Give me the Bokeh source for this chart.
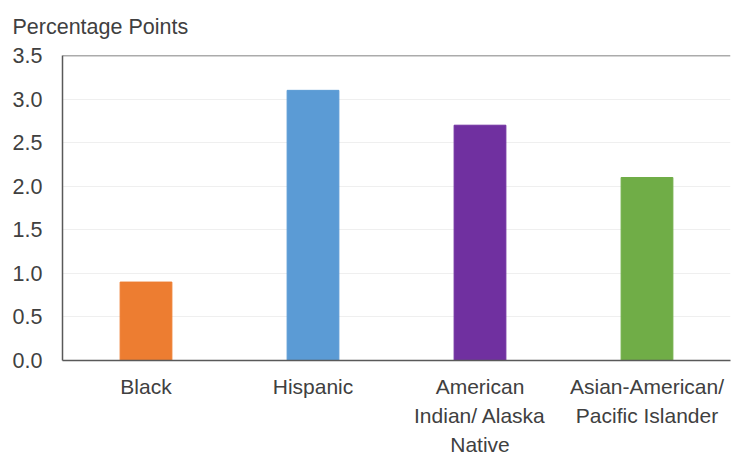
from bokeh.plotting import figure
from bokeh.models import Range1d, FixedTicker, Span, ColumnDataSource, NumeralTickFormatter
from bokeh.embed import file_html
from bokeh.resources import INLINE

categories = ["Black", "Hispanic", "American Indian/ Alaska Native", "Asian-American/ Pacific Islander"]
tick_labels = ["Black", "Hispanic", "American\nIndian/ Alaska\nNative", "Asian-American/\nPacific Islander"]
values = [0.9, 3.1, 2.7, 2.1]
colors = ["#ED7D31", "#5B9BD5", "#7030A0", "#70AD47"]
y_ticks = [0.0, 0.5, 1.0, 1.5, 2.0, 2.5, 3.0, 3.5]
y_title = "Percentage Points"

FONT = "Liberation Sans"
TXT = "#404040"
AX = "#595959"

xpos = list(range(len(categories)))
src = ColumnDataSource(dict(x=xpos, cat=categories, val=values, color=colors))

p = figure(width=732, height=460, x_range=Range1d(-0.5, len(categories) - 0.5), y_range=Range1d(0, 3.5),
           output_backend="svg", toolbar_location=None,
           min_border_left=62, min_border_right=2, min_border_top=55, min_border_bottom=100)

p.vbar(x="x", top="val", width=0.31, color="color", source=src)

p.title.text = y_title
p.title.align = "left"
p.title.offset = -50
p.title.vertical_align = "top"
p.title.standoff = 29
p.title.text_font = FONT
p.title.text_font_size = "21.5px"
p.title.text_font_style = "normal"
p.title.text_color = TXT

p.outline_line_color = None
p.background_fill_color = "white"
p.border_fill_color = "white"

# y axis
yax = p.yaxis[0]
yax.ticker = FixedTicker(ticks=y_ticks)
yax.formatter = NumeralTickFormatter(format="0.0")
yax.major_tick_line_color = None
yax.major_tick_out = 0
yax.minor_tick_line_color = None
yax.axis_line_color = AX
yax.axis_line_width = 1.5
yax.major_label_text_font = FONT
yax.major_label_text_font_size = "21.5px"
yax.major_label_text_color = TXT
yax.major_label_standoff = 20

# x axis
xax = p.xaxis[0]
xax.ticker = FixedTicker(ticks=xpos)
xax.major_label_overrides = {i: t for i, t in zip(xpos, tick_labels)}
xax.major_tick_line_color = None
xax.major_tick_out = 0
xax.minor_tick_line_color = None
xax.minor_tick_out = 0
xax.axis_line_color = AX
xax.axis_line_width = 1.5
xax.major_label_text_font = FONT
xax.major_label_text_font_size = "21px"
xax.major_label_text_color = TXT
xax.major_label_standoff = 14
xax.major_label_text_line_height = 1.28

p.xgrid.grid_line_color = None
p.ygrid.grid_line_color = "#EFEFEF"
p.ygrid.grid_line_width = 1

top = Span(location=3.5, dimension="width", line_color=AX, line_width=1.5)
p.add_layout(top)

open("out.html", "w").write(file_html(p, INLINE))
